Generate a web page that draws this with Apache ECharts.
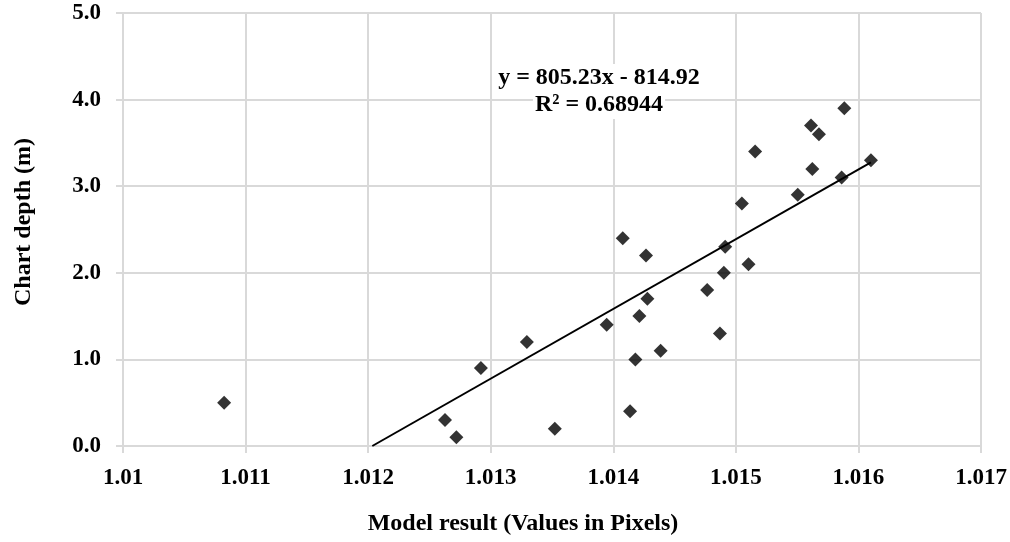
<!DOCTYPE html>
<html>
<head>
<meta charset="utf-8">
<script src="https://cdn.jsdelivr.net/npm/echarts@6/dist/echarts.min.js"></script>
<style>
  html, body { margin: 0; padding: 0; background: #fff; }
  #chart { width: 1010px; height: 542px; }
</style>
</head>
<body>
<div id="chart"></div>
<script>
// model result (pixels) vs chart depth (m)
const modelResult = [
  1.010825, 1.012627, 1.01272, 1.01292, 1.013295, 1.013523, 1.013946,
  1.014077, 1.014137, 1.01418, 1.014213, 1.014267, 1.014278, 1.014386,
  1.014766, 1.01487, 1.014902, 1.014913, 1.015103, 1.015049, 1.015157,
  1.015505, 1.015613, 1.015624, 1.015678, 1.015863, 1.015885, 1.016102
]
const chartDepth = [
  0.5, 0.3, 0.1, 0.9, 1.2, 0.2, 1.4,
  2.4, 0.4, 1.0, 1.5, 2.2, 1.7, 1.1,
  1.8, 1.3, 2.0, 2.3, 2.1, 2.8, 3.4,
  2.9, 3.7, 3.2, 3.6, 3.1, 3.9, 3.3
]

// trendline from the fitted equation
const slope = 805.23
const intercept = -814.92
const rSquared = '0.68944'

const xTicks = [1.01, 1.011, 1.012, 1.013, 1.014, 1.015, 1.016, 1.017]
const yTicks = [0, 1, 2, 3, 4, 5]

const points = modelResult.map((x, i) => [x, chartDepth[i]])

// line starts where it crosses y = 0 and ends at the last point
const xMax = Math.max(...modelResult)
const trendStart = -intercept / slope
const trendLine = [
  [trendStart, slope * trendStart + intercept],
  [xMax, slope * xMax + intercept]
]

const font = "'Liberation Serif', 'Times New Roman', serif"
const gridColor = '#d9d9d9'

const labelStyle = (text) => ({
  text: text,
  fontFamily: font,
  fontWeight: 'bold',
  fontSize: 24,
  fill: '#000',
  backgroundColor: '#fff',
  padding: [2, 2],
  align: 'center',
  verticalAlign: 'middle'
})

const chart = echarts.init(document.getElementById('chart'))

chart.setOption({
  animation: false,
  backgroundColor: '#fff',
  grid: { left: 123, right: 29, top: 13, bottom: 96, containLabel: false },
  xAxis: {
    type: 'value',
    min: xTicks[0],
    max: xTicks[xTicks.length - 1],
    interval: 0.001,
    name: 'Model result (Values in Pixels)',
    nameLocation: 'middle',
    nameGap: 66,
    nameTextStyle: {
      fontFamily: font, fontWeight: 'bold', fontSize: 24, color: '#000',
      padding: [0, 58, 0, 0]
    },
    axisLine: { show: true, lineStyle: { color: gridColor, width: 2 } },
    axisTick: { show: true, length: 7, lineStyle: { color: gridColor, width: 2 } },
    axisLabel: {
      margin: 21,
      fontFamily: font, fontWeight: 'bold', fontSize: 23, color: '#000',
      formatter: v => String(parseFloat(v.toFixed(3)))
    },
    splitLine: { show: true, lineStyle: { color: gridColor, width: 2 } }
  },
  yAxis: {
    type: 'value',
    min: yTicks[0],
    max: yTicks[yTicks.length - 1],
    interval: 1,
    name: 'Chart depth (m)',
    nameLocation: 'middle',
    nameGap: 87,
    nameTextStyle: {
      fontFamily: font, fontWeight: 'bold', fontSize: 24, color: '#000',
      padding: [0, 0, 0, 15]
    },
    axisLine: { show: true, lineStyle: { color: gridColor, width: 2 } },
    axisTick: { show: true, length: 7, lineStyle: { color: gridColor, width: 2 } },
    axisLabel: {
      margin: 22,
      fontFamily: font, fontWeight: 'bold', fontSize: 23, color: '#000',
      formatter: v => v.toFixed(1)
    },
    splitLine: { show: true, lineStyle: { color: gridColor, width: 2 } }
  },
  graphic: [
    { type: 'text', x: 599, y: 78, z: 10, style: labelStyle('y = 805.23x - 814.92') },
    { type: 'text', x: 599, y: 105, z: 10, style: labelStyle('R² = ' + rSquared) }
  ],
  series: [
    {
      type: 'line',
      data: trendLine,
      symbol: 'none',
      lineStyle: { color: '#000', width: 2 },
      z: 2
    },
    {
      type: 'scatter',
      data: points,
      symbol: 'diamond',
      symbolSize: 14,
      itemStyle: { color: '#000' },
      z: 3
    }
  ]
})
</script>
</body>
</html>
